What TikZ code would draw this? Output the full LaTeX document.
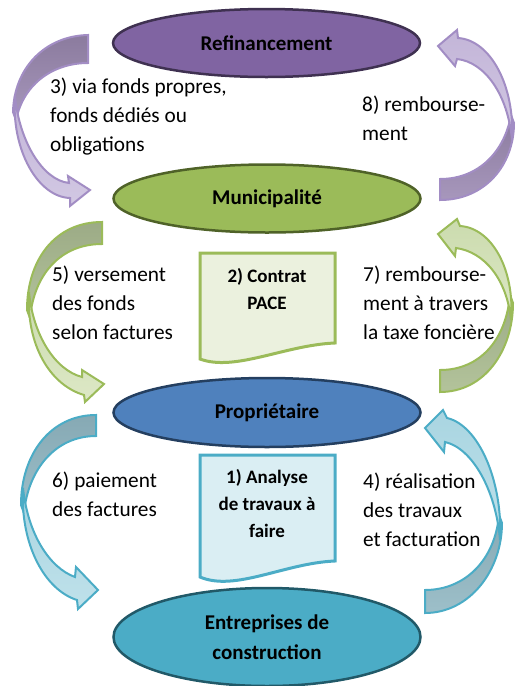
\documentclass[tikz,border=0pt]{standalone}
\usepackage{fontspec}
\setmainfont{Carlito}
\usetikzlibrary{shapes.geometric}
\definecolor{purpfill}{HTML}{8064A2}
\definecolor{purpline}{HTML}{3F3151}
\definecolor{greenfill}{HTML}{9BBB59}
\definecolor{greenline}{HTML}{4F6228}
\definecolor{bluefill}{HTML}{4F81BD}
\definecolor{blueline}{HTML}{243F60}
\definecolor{aquafill}{HTML}{4BACC6}
\definecolor{aqualine}{HTML}{215968}
\definecolor{parrow}{HTML}{A28DC4}
\definecolor{pdarkA}{HTML}{8B7B9E}
\definecolor{pdarkB}{HTML}{A797BC}
\definecolor{plightA}{HTML}{C3B5D8}
\definecolor{plightB}{HTML}{D2C8E3}
\definecolor{garrow}{HTML}{9BBB59}
\definecolor{gdarkA}{HTML}{9CAB86}
\definecolor{gdarkB}{HTML}{B3C39B}
\definecolor{glightA}{HTML}{CBDBAE}
\definecolor{glightB}{HTML}{DDE8C6}
\definecolor{barrow}{HTML}{4BACC6}
\definecolor{bdarkA}{HTML}{86A9B4}
\definecolor{bdarkB}{HTML}{9DBFC9}
\definecolor{blightA}{HTML}{A9D5E1}
\definecolor{blightB}{HTML}{BFE1EA}
\definecolor{docgfill}{HTML}{EBF1DE}
\definecolor{docbfill}{HTML}{DAEEF3}
\begin{document}
\begin{tikzpicture}[x=1pt,y=-1pt,
  ellbase/.style={ellipse, line width=2.5pt, minimum width=307pt, minimum height=68pt,
    inner sep=0pt, font=\bfseries\fontsize{21}{30}\selectfont, align=center},
  lbl/.style={inner sep=0pt, anchor=west, align=left, font=\fontsize{21.3}{29}\selectfont},
  doctxt/.style={inner sep=0pt, align=center, font=\bfseries\fontsize{19}{27}\selectfont},
  arrowedge/.style={line width=2pt, line join=miter},
  pdark/.style={arrowedge, draw=parrow, top color=pdarkA, bottom color=pdarkB},
  plight/.style={arrowedge, draw=parrow, top color=plightA, bottom color=plightB},
  gdark/.style={arrowedge, draw=garrow, top color=gdarkA, bottom color=gdarkB},
  glight/.style={arrowedge, draw=garrow, top color=glightA, bottom color=glightB},
  bdark/.style={arrowedge, draw=barrow, top color=bdarkA, bottom color=bdarkB},
  blight/.style={arrowedge, draw=barrow, top color=blightA, bottom color=blightB},
  docg/.style={line width=3pt, draw=garrow, fill=docgfill},
  docb/.style={line width=3pt, draw=barrow, fill=docbfill}]
\useasboundingbox (0,0) rectangle (516,686);

% ---------- arrow 3 (left, purple) ----------
\path[pdark] (88,35) .. controls (45,36) and (14,68) .. (13,112) -- (16,120)
  .. controls (24,82) and (55,63) .. (88,63) -- cycle;
\path[plight] (15,96) .. controls (11,150) and (38,197) .. (70,198) -- (70,206) -- (90,190)
  -- (68,176) -- (69,183) .. controls (42,180) and (19,140) .. (15,96) -- cycle;
% ---------- arrow 8 (right, purple) ----------
\path[pdark] (440,200) .. controls (485,200) and (514,165) .. (514,123) -- (511,115)
  .. controls (505,150) and (480,179) .. (440,179) -- cycle;
\path[plight] (512,140) .. controls (515,85) and (490,40) .. (458,38) -- (457,30) -- (438,46)
  -- (455,66) -- (457,59) .. controls (485,62) and (508,95) .. (512,140) -- cycle;
% ---------- arrow 5 (left, green) ----------
\path[gdark] (102,222) .. controls (55,222) and (27,260) .. (27,310) -- (30,318)
  .. controls (34,275) and (60,244) .. (102,244) -- cycle;
\path[glight] (29,292) .. controls (26,345) and (50,385) .. (84,395) -- (85,402) -- (104,384)
  -- (82,370) -- (82,377) .. controls (55,370) and (33,335) .. (29,292) -- cycle;
% ---------- arrow 7 (right, green) ----------
\path[gdark] (440,392) .. controls (485,392) and (513,350) .. (513,303) -- (510,295)
  .. controls (506,340) and (480,370) .. (440,370) -- cycle;
\path[glight] (511,320) .. controls (515,270) and (492,228) .. (460,226) -- (457,219) -- (438,234)
  -- (455,256) -- (456,248) .. controls (485,252) and (507,280) .. (511,320) -- cycle;
% ---------- arrow 6 (left, blue) ----------
\path[bdark] (96,415) .. controls (50,415) and (21,455) .. (21,505) -- (24,513)
  .. controls (28,470) and (55,436) .. (96,436) -- cycle;
\path[blight] (23,488) .. controls (20,545) and (45,590) .. (77,600) -- (78,609) -- (98,590)
  -- (76,567) -- (75,577) .. controls (50,568) and (28,535) .. (23,488) -- cycle;
% ---------- arrow 4 (right, blue) ----------
\path[bdark] (425,613) .. controls (470,613) and (502,570) .. (502,523) -- (499,515)
  .. controls (495,560) and (465,590) .. (425,590) -- cycle;
\path[blight] (500,540) .. controls (503,480) and (478,425) .. (447,418) -- (443,410) -- (425,428)
  -- (444,452) -- (445,442) .. controls (472,448) and (496,490) .. (500,540) -- cycle;

% ---------- ellipses ----------
\node[ellbase, fill=purpfill, draw=purpline] (ref) at (266.5,43) {Refinancement};
\node[ellbase, fill=greenfill, draw=greenline] (mun) at (267,198.5) {Municipalité};
\node[ellbase, fill=bluefill, draw=blueline, minimum height=69pt] (pro) at (267,412.5) {Propriétaire};
\node[ellbase, fill=aquafill, draw=aqualine, minimum height=98pt] (ent) at (267,637) {Entreprises de\\construction};

% ---------- documents ----------
\path[docg] (200,253) -- (335,253) -- (335,343)
  .. controls (285,345) and (235,372) .. (200,359) -- cycle;
\node[doctxt] (d2) at (267,289.5) {2) Contrat\\PACE};
\path[docb] (200,455) -- (335,455) -- (335,561)
  .. controls (285,563) and (235,592) .. (200,577) -- cycle;
\node[doctxt] (d1) at (267,504) {1) Analyse\\de travaux à\\faire};

% ---------- labels ----------
\node[lbl] (l3) at (50,117) {3) via fonds propres,\\fonds dédiés ou\\obligations};
\node[lbl] (l8) at (362,118) {8) rembourse-\\ment};
\node[lbl] (l5) at (52,303) {5) versement\\des fonds\\selon factures};
\node[lbl] (l7) at (363,303) {7) rembourse-\\ment à travers\\la taxe foncière};
\node[lbl] (l6) at (52,494.5) {6) paiement\\des factures};
\node[lbl] (l4) at (363,510) {4) réalisation\\des travaux\\et facturation};
\end{tikzpicture}
\end{document}
